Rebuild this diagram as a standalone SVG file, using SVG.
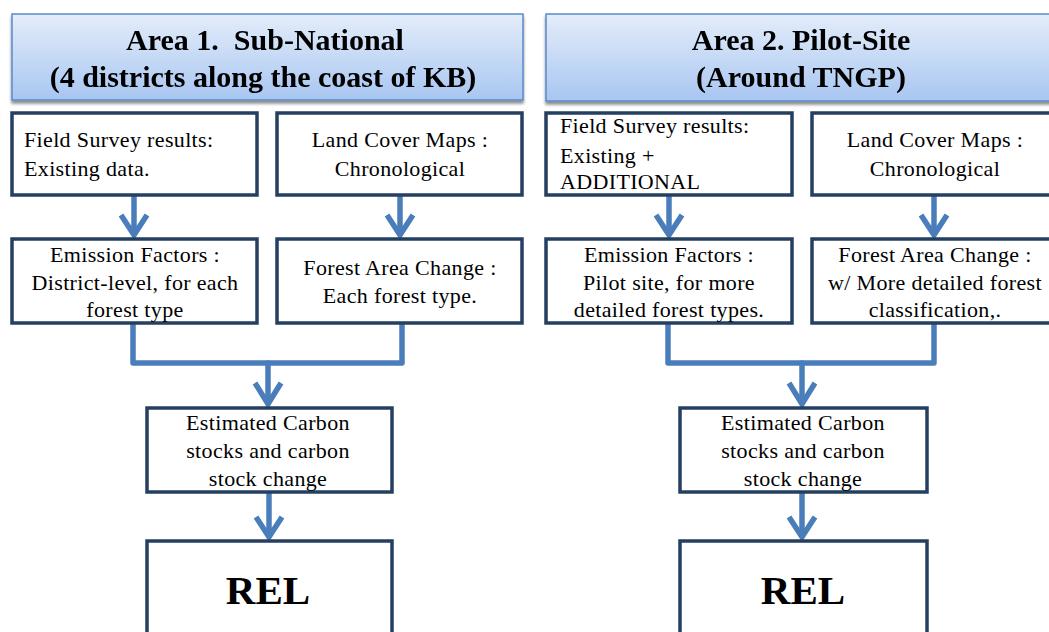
<svg xmlns="http://www.w3.org/2000/svg" width="1049" height="632" viewBox="0 0 1049 632">
  <defs>
    <linearGradient id="hdrFill" x1="0" y1="0" x2="0" y2="1">
      <stop offset="0" stop-color="#e4edfa"/>
      <stop offset="1" stop-color="#a8c6f1"/>
    </linearGradient>
    <filter id="hdrShadow" x="-5%" y="-10%" width="110%" height="130%">
      <feGaussianBlur in="SourceAlpha" stdDeviation="1.5"/>
      <feOffset dx="0" dy="3" result="b"/>
      <feComponentTransfer><feFuncA type="linear" slope="0.45"/></feComponentTransfer>
      <feMerge><feMergeNode/><feMergeNode in="SourceGraphic"/></feMerge>
    </filter>
  </defs>
  <style>
    .hdr { fill: url(#hdrFill); stroke: #5a8acb; stroke-width: 1.5; }
    .hdrText { font-family: "Liberation Serif", "Times New Roman", serif; font-weight: bold; font-size: 30px; fill: #000; text-anchor: middle; }
    .box { fill: #fff; stroke: #243f60; stroke-width: 3.5; }
    .txt { font-family: "Liberation Serif", "Times New Roman", serif; font-size: 22px; letter-spacing: 0.35px; fill: #000; }
    .mid { text-anchor: middle; }
    .rel { font-family: "Liberation Serif", "Times New Roman", serif; font-weight: bold; font-size: 41px; fill: #000; text-anchor: middle; }
    .conn { fill: none; stroke: #4a7ebb; stroke-width: 5.5; stroke-linejoin: round; stroke-linecap: round; }
    .head { fill: none; stroke: #4a7ebb; stroke-width: 5.5; stroke-linejoin: miter; stroke-linecap: butt; }
  </style>

  <rect width="1049" height="632" fill="#fff"/>

  <!-- headers -->
  <g id="header-area1" filter="url(#hdrShadow)">
    <rect class="hdr" x="12" y="14" width="511" height="86"/>
    <text class="hdrText" x="265" y="50" xml:space="preserve">Area 1.  Sub-National</text>
    <text class="hdrText" x="263" y="87">(4 districts along the coast of KB)</text>
  </g>
  <g id="header-area2" filter="url(#hdrShadow)">
    <rect class="hdr" x="546" y="14" width="511" height="87"/>
    <text class="hdrText" x="801" y="50">Area 2. Pilot-Site</text>
    <text class="hdrText" x="801" y="87">(Around TNGP)</text>
  </g>

  <!-- connectors -->
  <g id="connectors">
    <!-- Area 1 -->
    <line class="conn" x1="134" y1="197" x2="134" y2="234"/>
    <polyline class="head" points="121,215 134,235 147,215"/>
    <line class="conn" x1="400" y1="197" x2="400" y2="234"/>
    <polyline class="head" points="387,215 400,235 413,215"/>
    <polyline class="conn" points="133,325 133,363 402,363 402,325"/>
    <line class="conn" x1="268" y1="363" x2="268" y2="403"/>
    <polyline class="head" points="255,383 268,404 281,383"/>
    <line class="conn" x1="269" y1="494" x2="269" y2="536"/>
    <polyline class="head" points="256,517 269,537 282,517"/>
    <!-- Area 2 -->
    <line class="conn" x1="669" y1="197" x2="669" y2="234"/>
    <polyline class="head" points="656,215 669,235 682,215"/>
    <line class="conn" x1="934" y1="197" x2="934" y2="234"/>
    <polyline class="head" points="921,215 934,235 947,215"/>
    <polyline class="conn" points="668,325 668,363 934,363 934,325"/>
    <line class="conn" x1="802" y1="363" x2="802" y2="403"/>
    <polyline class="head" points="789,383 802,404 815,383"/>
    <line class="conn" x1="802" y1="494" x2="802" y2="536"/>
    <polyline class="head" points="789,517 802,537 815,517"/>
  </g>

  <!-- Area 1 nodes -->
  <g id="field-survey-1">
    <rect class="box" x="12" y="113" width="245" height="82"/>
    <text class="txt" x="24" y="147">Field Survey results:</text>
    <text class="txt" x="24" y="176">Existing data.</text>
  </g>
  <g id="land-cover-1">
    <rect class="box" x="277" y="113" width="245" height="82"/>
    <text class="txt mid" x="400" y="147">Land Cover Maps :</text>
    <text class="txt mid" x="400" y="176">Chronological</text>
  </g>
  <g id="emission-factors-1">
    <rect class="box" x="12" y="239" width="245" height="84"/>
    <text class="txt mid" x="135" y="262">Emission Factors :</text>
    <text class="txt mid" x="135" y="290">District-level, for each</text>
    <text class="txt mid" x="135" y="317">forest type</text>
  </g>
  <g id="forest-area-1">
    <rect class="box" x="277" y="239" width="245" height="84"/>
    <text class="txt mid" x="400" y="275">Forest Area Change :</text>
    <text class="txt mid" x="400" y="303">Each forest type.</text>
  </g>
  <g id="carbon-stock-1">
    <rect class="box" x="147" y="408" width="245" height="84"/>
    <text class="txt mid" x="268" y="430">Estimated Carbon</text>
    <text class="txt mid" x="268" y="458">stocks and carbon</text>
    <text class="txt mid" x="268" y="486">stock change</text>
  </g>
  <g id="rel-1">
    <rect class="box" x="147" y="541" width="245" height="100"/>
    <text class="rel" x="268" y="604">REL</text>
  </g>

  <!-- Area 2 nodes -->
  <g id="field-survey-2">
    <rect class="box" x="546" y="113" width="246" height="82"/>
    <text class="txt" x="560" y="133">Field Survey results:</text>
    <text class="txt" x="560" y="163">Existing +</text>
    <text class="txt" x="560" y="189">ADDITIONAL</text>
  </g>
  <g id="land-cover-2">
    <rect class="box" x="812" y="113" width="245" height="82"/>
    <text class="txt mid" x="935" y="147">Land Cover Maps :</text>
    <text class="txt mid" x="935" y="176">Chronological</text>
  </g>
  <g id="emission-factors-2">
    <rect class="box" x="546" y="239" width="246" height="84"/>
    <text class="txt mid" x="669" y="262">Emission Factors :</text>
    <text class="txt mid" x="669" y="290">Pilot site, for more</text>
    <text class="txt mid" x="669" y="317">detailed forest types.</text>
  </g>
  <g id="forest-area-2">
    <rect class="box" x="812" y="239" width="245" height="84"/>
    <text class="txt mid" x="935" y="262">Forest Area Change :</text>
    <text class="txt mid" x="935" y="290">w/ More detailed forest</text>
    <text class="txt mid" x="935" y="317">classification,.</text>
  </g>
  <g id="carbon-stock-2">
    <rect class="box" x="680" y="408" width="247" height="84"/>
    <text class="txt mid" x="803" y="430">Estimated Carbon</text>
    <text class="txt mid" x="803" y="458">stocks and carbon</text>
    <text class="txt mid" x="803" y="486">stock change</text>
  </g>
  <g id="rel-2">
    <rect class="box" x="680" y="541" width="247" height="100"/>
    <text class="rel" x="803" y="604">REL</text>
  </g>
</svg>
